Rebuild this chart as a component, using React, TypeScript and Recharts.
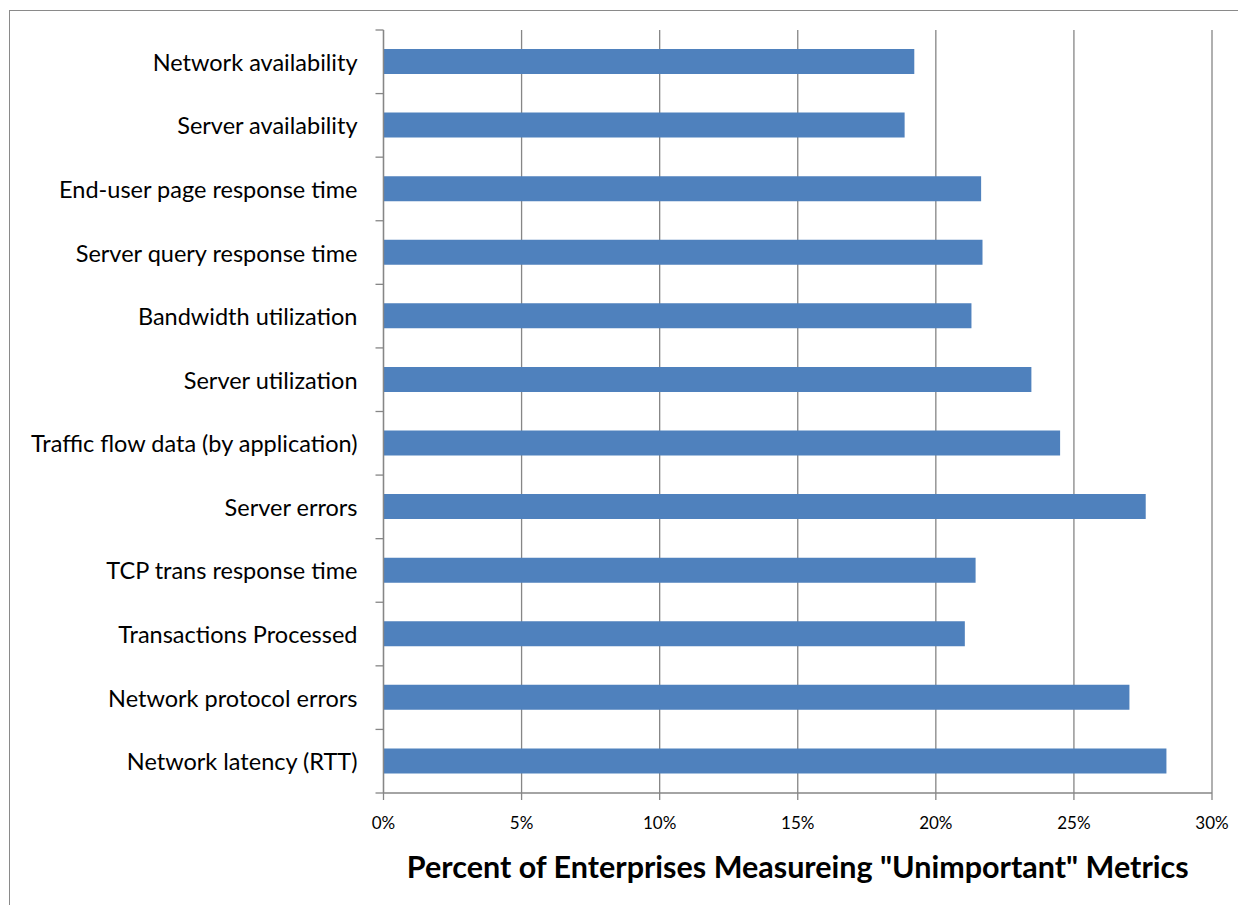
import { BarChart, Bar, XAxis, YAxis, CartesianGrid } from 'recharts';

const categories = [
  'Network availability',
  'Server availability',
  'End-user page response time',
  'Server query response time',
  'Bandwidth utilization',
  'Server utilization',
  'Traffic flow data (by application)',
  'Server errors',
  'TCP trans response time',
  'Transactions Processed',
  'Network protocol errors',
  'Network latency (RTT)',
];

const percents = [19.22, 18.87, 21.64, 21.69, 21.29, 23.46, 24.5, 27.6, 21.44, 21.05, 27.01, 28.35];

const xTicks = [0, 5, 10, 15, 20, 25, 30];

const data = categories.map((name, i) => ({ name, value: percents[i] }));

const AXIS_X = 383.5;
const PLOT_TOP = 30;
const PLOT_BOTTOM = 793;
const BAND = (PLOT_BOTTOM - PLOT_TOP) / categories.length;
const GRAY = '#868686';
const FONT = 'Lato, "Noto Sans", sans-serif';

const CategoryTick = (props: any) => {
  const { y, payload, index } = props;
  return (
    <g>
      <text
        x={AXIS_X - 26}
        y={y}
        textAnchor="end"
        dominantBaseline="central"
        fontFamily={FONT}
        fontSize={23.5}
        fill="#000"
      >
        {payload.value}
      </text>
      <line x1={AXIS_X - 8} x2={AXIS_X} y1={y - BAND / 2} y2={y - BAND / 2} stroke={GRAY} strokeWidth={1.3} />
      {index === categories.length - 1 && (
        <line x1={AXIS_X - 8} x2={AXIS_X} y1={y + BAND / 2} y2={y + BAND / 2} stroke={GRAY} strokeWidth={1.3} />
      )}
    </g>
  );
};

export default function App() {
  return (
    <div style={{ position: 'absolute', left: 0, top: 0, width: 1238, height: 905, background: '#fff', overflow: 'hidden' }}>
      <div
        style={{
          position: 'absolute',
          left: 9,
          top: 10,
          width: 1260,
          height: 920,
          border: '1.3px solid #8a8a8a',
        }}
      />
      <div style={{ position: 'absolute', left: 0, top: 0 }}>
        <BarChart
          width={1238}
          height={905}
          data={data}
          layout="vertical"
          margin={{ top: PLOT_TOP, right: 26, bottom: 72, left: 0 }}
        >
          <CartesianGrid horizontal={false} vertical stroke={GRAY} strokeWidth={1.3} />
          <XAxis
            type="number"
            dataKey="value"
            domain={[0, 30]}
            ticks={xTicks}
            tickFormatter={(v: number) => `${v}%`}
            height={40}
            tickSize={7}
            tickMargin={17}
            axisLine={{ stroke: GRAY, strokeWidth: 1.3 }}
            tickLine={{ stroke: GRAY, strokeWidth: 1.3 }}
            tick={{ fontFamily: FONT, fontSize: 17, fill: '#000' }}
            interval={0}
            label={{
              content: (p: any) => (
                <text
                  x={p.viewBox.x + p.viewBox.width / 2}
                  y={878}
                  textAnchor="middle"
                  fontFamily={FONT}
                  fontWeight="bold"
                  fontSize={30.5}
                  fill="#000"
                >
                  Percent of Enterprises Measureing "Unimportant" Metrics
                </text>
              ),
            }}
          />
          <YAxis
            type="category"
            dataKey="name"
            width={AXIS_X}
            tickLine={false}
            axisLine={{ stroke: GRAY, strokeWidth: 1.3 }}
            tick={<CategoryTick />}
            interval={0}
          />
          <Bar dataKey="value" fill="#4f81bd" barSize={25} isAnimationActive={false} />
        </BarChart>
      </div>
    </div>
  );
}
